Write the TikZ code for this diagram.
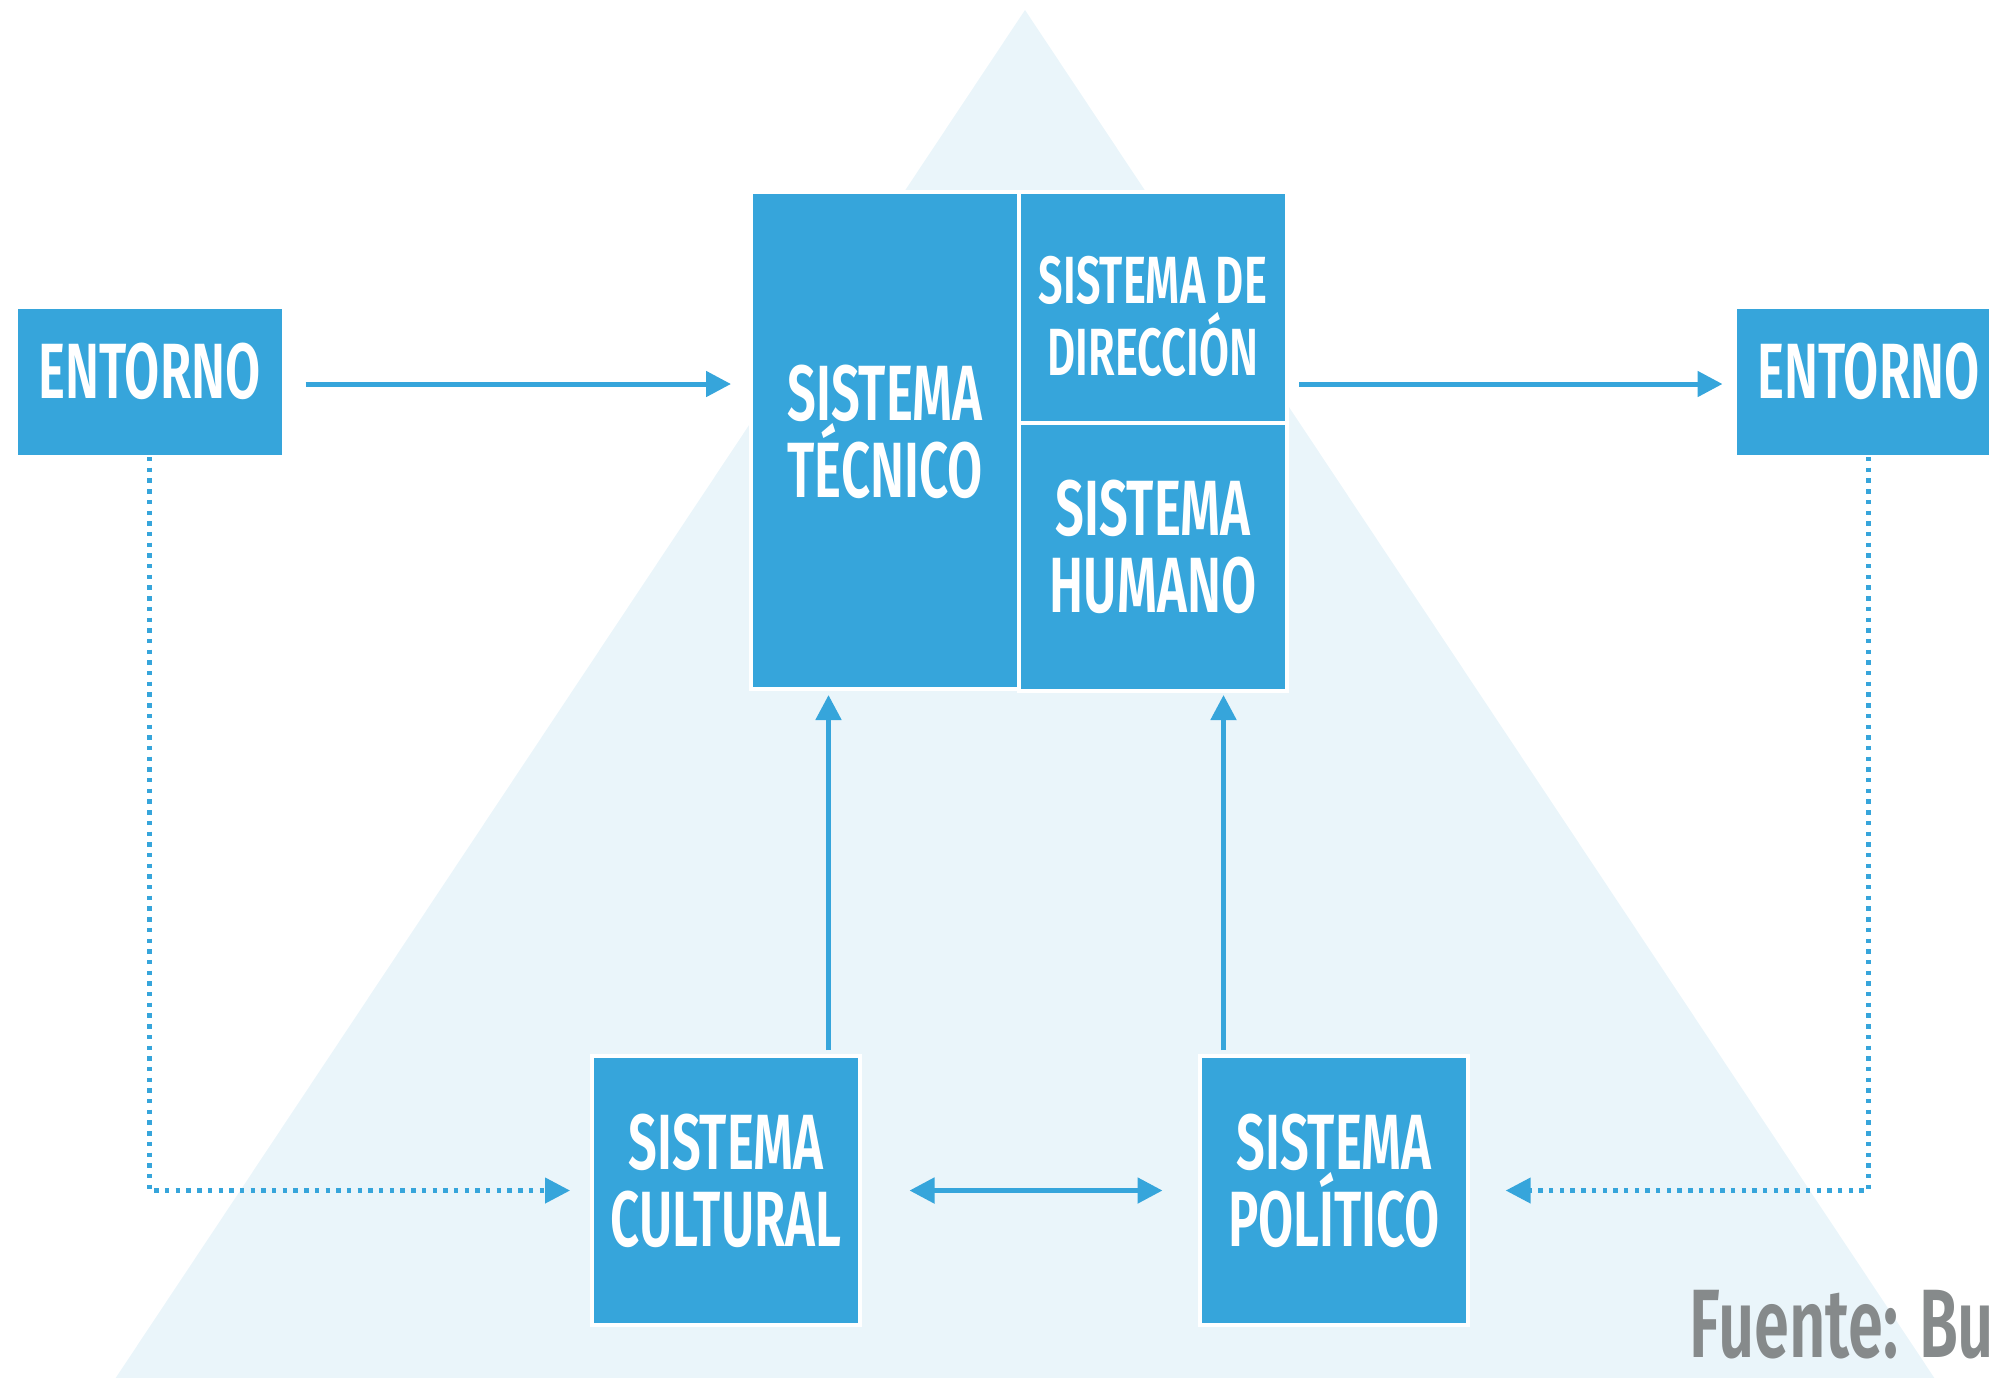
\documentclass[tikz,border=0pt]{standalone}
\usepackage{fontspec}
\setmainfont{Fira Sans}
\newfontfamily\dinfont{Fira Sans}[UprightFont=* SemiBold, BoldFont=* SemiBold, FakeStretch=0.65]
\usetikzlibrary{arrows.meta}
\definecolor{boxblue}{RGB}{54,165,219}
\definecolor{triblue}{RGB}{234,245,250}
\definecolor{srcgray}{RGB}{134,138,139}
\begin{document}
\begin{tikzpicture}[x=0.5pt,y=-0.5pt,
  box/.style={fill=boxblue, draw=white, line width=2pt, inner sep=0pt, outer sep=0pt, minimum width=134pt},
  txt/.style={text=white, font=\dinfont\fontsize{39.2pt}{38.5pt}\selectfont, align=center, inner sep=0pt},
  txtsmall/.style={text=white, font=\dinfont\fontsize{33.4pt}{35.8pt}\selectfont, align=center, inner sep=0pt},
  tip/.tip={Triangle[length=12.5pt,width=12.5pt]},
  arr/.style={draw=boxblue, line width=2.5pt, -tip},
  dotarr/.style={draw=boxblue, line width=2.2pt, dash pattern=on 2.2pt off 3.15pt, -tip}
]
\useasboundingbox (0,0) rectangle (1989,1377);
\fill[triblue] (1025,10) -- (1949,1400) -- (101,1400) -- cycle;

\node[box, minimum height=75pt] (entL) at (149.5,382) {};
\node[box, minimum height=75pt] (entR) at (1868.5,382) {};
\node[box, minimum height=248.5pt] (tec) at (885,440.5) {};
\node[box, minimum height=115.25pt] (dir) at (1153,307.25) {};
\node[box, minimum height=134.25pt] (hum) at (1153,556.75) {};
\node[box, minimum height=134.5pt] (cul) at (726,1190.5) {};
\node[box, minimum height=134.5pt] (pol) at (1334,1190.5) {};

\node[txt] (entLt) at ([yshift=5.25pt]entL.center) {ENTORNO};
\node[txt] (entRt) at ([yshift=5.25pt]entR.center) {ENTORNO};
\node[txt] (tect) at ([yshift=4.5pt]tec.center) {SISTEMA\\TÉCNICO};
\node[txtsmall] (dirt) at ([yshift=-4.5pt]dir.center) {SISTEMA DE\\DIRECCIÓN};
\node[txt] (humt) at ([yshift=5pt]hum.center) {SISTEMA\\HUMANO};
\node[txt] (cult) at ([yshift=4.75pt]cul.center) {SISTEMA\\CULTURAL};
\node[txt] (polt) at ([yshift=4.75pt]pol.center) {SISTEMA\\POLÍTICO};

\draw[arr, shorten <=11pt, shorten >=10pt] ([yshift=-1pt]entL.east) -- ([yshift=-1pt]entL.east -| tec.west);
\draw[arr, shorten <=6pt, shorten >=6pt] ([yshift=-1pt]entR.west -| dir.east) -- ([yshift=-1pt]entR.west);
\draw[arr, shorten <=3pt, shorten >=3pt] ([xshift=51.25pt]cul.north) -- ([xshift=51.25pt]cul.north |- tec.south);
\draw[arr, shorten <=3pt, shorten >=2pt] ([xshift=-55.25pt]pol.north) -- ([xshift=-55.25pt]pol.north |- hum.south);
\draw[arr, tip-tip, shorten <=24.75pt, shorten >=18.75pt] (cul.east) -- (pol.west);

\draw[dotarr, shorten >=11pt] (entL.south) |- (cul.west);
\draw[dotarr, shorten >=18.85pt] (entR.south) |- (pol.east);

\node[anchor=base west, inner sep=0pt, text=srcgray, font=\dinfont\fontsize{48.6pt}{50pt}\selectfont] (src) at (1689,1357) {Fuente: Bu};
\end{tikzpicture}
\end{document}
